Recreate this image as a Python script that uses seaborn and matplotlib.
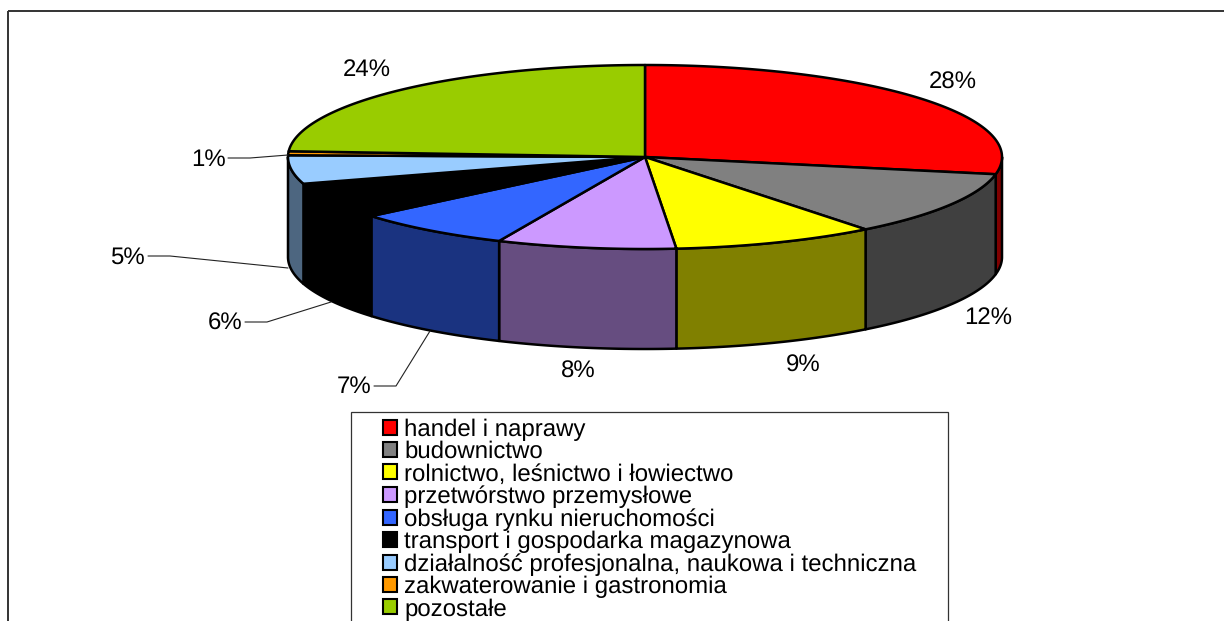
import numpy as np
import seaborn as sns
import matplotlib.pyplot as plt
from matplotlib.patches import Patch, Rectangle

# data
categories = ["handel i naprawy",
              "budownictwo",
              "rolnictwo, leśnictwo i łowiectwo",
              "przetwórstwo przemysłowe",
              "obsługa rynku nieruchomości",
              "transport i gospodarka magazynowa",
              "działalność profesjonalna, naukowa i techniczna",
              "zakwaterowanie i gastronomia",
              "pozostałe"]
shares = [28.0, 11.4, 9.2, 8.1, 7.2, 6.4, 5.0, 0.7, 24.0]
labels = ["28%", "12%", "9%", "8%", "7%", "6%", "5%", "1%", "24%"]
top_colors = ["#FF0000", "#808080", "#FFFF00", "#CC99FF", "#3366FF",
              "#000000", "#99CCFF", "#FF9900", "#99CC00"]
side_colors = ["#800000", "#404040", "#808000", "#664D80", "#1A3380",
               "#000000", "#4D6680", "#804D00", "#4D6600"]

# pie geometry in pixels
cx, cy = 645, 157
rx, ry = 357, 92
depth = 100

# label centre and leader line (None = no leader)
label_pos = [(953, 83), (988, 318), (803, 366), (578, 372), (354, 387),
             (225, 324), (127, 258), (209, 160), (367, 70)]
leaders = [None, None, None, None,
           [(374, 386), (396, 386), (430, 331)],
           [(245, 322), (267, 322), (331, 302)],
           [(148, 256), (170, 256), (288, 268)],
           [(228, 158), (250, 158), (288, 155)],
           None]

sns.set_theme(style='white')
plt.rcParams['font.family'] = ['Liberation Sans', 'DejaVu Sans']
plt.rcParams['text.hinting'] = 'none'
plt.rcParams['text.hinting_factor'] = 1
plt.rcParams['text.color'] = 'black'

fig = plt.figure(figsize=(12.24, 6.21), dpi=100)
ax = fig.add_axes([0, 0, 1, 1])
ax.set_xlim(0, 1224)
ax.set_ylim(621, 0)
ax.axis('off')


def rim(a, b):
    # points along the top rim, angles clockwise from 12 o'clock
    t = np.radians(np.linspace(a, b, 200))
    return cx + rx * np.sin(t), cy - ry * np.cos(t)


edges = np.concatenate([[0], np.cumsum(shares)]) * 3.6

# side walls, only the front half shows
for i in range(len(shares)):
    a = max(edges[i], 90)
    b = min(edges[i + 1], 270)
    if b <= a:
        continue
    x, y = rim(a, b)
    ax.fill(np.r_[x, x[::-1]], np.r_[y, y[::-1] + depth],
            facecolor=side_colors[i], edgecolor='black', lw=1.8, joinstyle='round')

# top faces
for i in range(len(shares)):
    x, y = rim(edges[i], edges[i + 1])
    ax.fill(np.r_[cx, x], np.r_[cy, y],
            facecolor=top_colors[i], edgecolor='black', lw=1.8, joinstyle='round')

# percent labels and leader lines
for i, lab in enumerate(labels):
    ax.text(label_pos[i][0], label_pos[i][1], lab, fontsize=17.5, color='black',
            ha='center', va='center')
    if leaders[i] is not None:
        ax.plot(*zip(*leaders[i]), color='#222222', lw=0.8)

# outer frame and legend box run off the picture at the right and bottom
ax.add_patch(Rectangle((8, 11), 1300, 700, fill=False, ec='#333333', lw=1.4))
ax.add_patch(Rectangle((351, 412), 597, 240, facecolor='white', ec='#333333', lw=0.9))

handles = [Patch(facecolor=c, edgecolor='black', lw=1.5) for c in top_colors]
ax.legend(handles, categories, loc='upper left', bbox_to_anchor=(376 / 1224, 1 - 411 / 621),
          frameon=False, fontsize=17.6, labelcolor='black', handlelength=0.56, handleheight=0.56,
          handletextpad=0.3, labelspacing=0.0, borderpad=0.3, borderaxespad=0)

fig.savefig('out.png', dpi=100)
